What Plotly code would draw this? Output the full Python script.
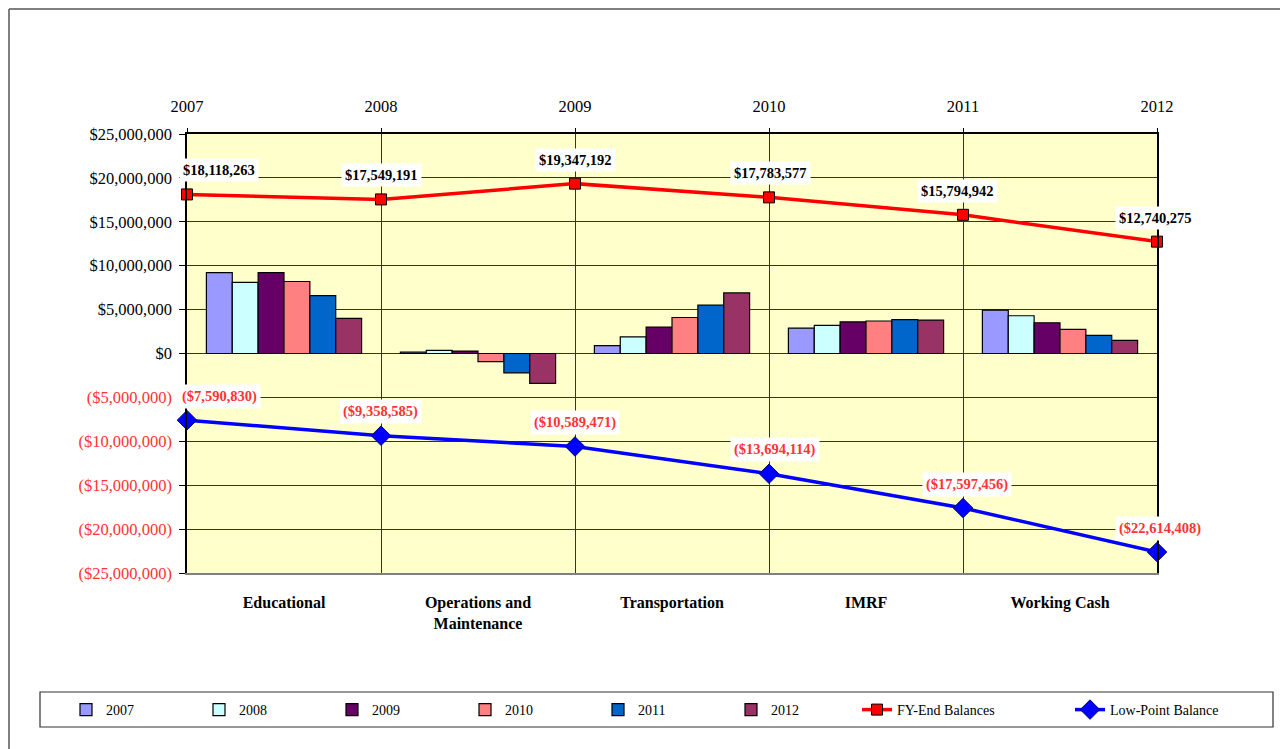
import plotly.graph_objects as go

categories = ["Educational", "Operations and<br>Maintenance", "Transportation", "IMRF", "Working Cash"]
years = [2007, 2008, 2009, 2010, 2011, 2012]

v2007 = [9200000, 150000, 900000, 2900000, 4950000]
v2008 = [8100000, 350000, 1900000, 3200000, 4300000]
v2009 = [9200000, 280000, 3000000, 3600000, 3500000]
v2010 = [8200000, -930000, 4100000, 3700000, 2750000]
v2011 = [6600000, -2200000, 5500000, 3850000, 2070000]
v2012 = [4000000, -3400000, 6900000, 3800000, 1500000]

fy_end = [18118263, 17549191, 19347192, 17783577, 15794942, 12740275]
low_point = [-7590830, -9358585, -10589471, -13694114, -17597456, -22614408]

y_ticks = [25000000, 20000000, 15000000, 10000000, 5000000, 0,
           -5000000, -10000000, -15000000, -20000000, -25000000]

bar_series = [("2007", v2007, "#9999FF"), ("2008", v2008, "#CCFFFF"),
              ("2009", v2009, "#660066"), ("2010", v2010, "#FF8080"),
              ("2011", v2011, "#0066CC"), ("2012", v2012, "#993366")]

SERIF = "Liberation Serif"
NEG = "#FF3333"


def money(v):
    return f"${v:,.0f}" if v >= 0 else f"(${-v:,.0f})"


def tick_label(v):
    if v > 0:
        return money(v)
    if v == 0:
        return "$0"
    return f"<span style='color:{NEG}'>{money(v)}</span>"


fig = go.Figure()
for name, vals, col in bar_series:
    fig.add_trace(go.Bar(x=categories, y=vals, name=name, marker_color=col,
                         marker_line_color="#000000", marker_line_width=1.2,
                         xaxis="x", yaxis="y", legend="legend"))

fig.add_trace(go.Scatter(x=years, y=fy_end, name="FY-End Balances", mode="lines+markers",
                         line=dict(color="#FF0000", width=3.5),
                         marker=dict(symbol="square", size=11, color="#FF0000",
                                     line=dict(color="#000000", width=1)),
                         xaxis="x2", yaxis="y", cliponaxis=False, legend="legend2"))
fig.add_trace(go.Scatter(x=years, y=low_point, name="Low-Point Balance", mode="lines+markers",
                         line=dict(color="#0000FF", width=3.5),
                         marker=dict(symbol="diamond", size=15, color="#0000FF",
                                     line=dict(color="#000080", width=1)),
                         xaxis="x2", yaxis="y", cliponaxis=False, legend="legend2"))

fy_xshift = [32, 0, 0, 1, -6, -2]
low_xshift = [32, -1, 0, 6, 4, 3]
annotations = []
for yr, v, xs in zip(years, fy_end, fy_xshift):
    annotations.append(dict(x=yr, y=v, xref="x2", yref="y", text=f"<b>{money(v)}</b>",
                            showarrow=False, yshift=24, xshift=xs, bgcolor="#FFFFFF",
                            borderpad=3, font=dict(family=SERIF, size=14.5, color="#000000")))
for yr, v, xs in zip(years, low_point, low_xshift):
    annotations.append(dict(x=yr, y=v, xref="x2", yref="y", text=f"<b>{money(v)}</b>",
                            showarrow=False, yshift=24, xshift=xs, bgcolor="#FFFFFF",
                            borderpad=3, font=dict(family=SERIF, size=14.5, color=NEG)))

OFF = 8  # page body margin
W, H = 1288, 749
L, R, T, B = 187 - OFF, W - (1157 - OFF), 134 - OFF, H - (573 - OFF)
pw, ph = W - L - R, H - T - B


def px(xs):
    return (xs - OFF - L) / pw


def py(ys):
    return (H - B - (ys - OFF)) / ph


shapes = [
    dict(type="line", xref="paper", yref="paper", x0=px(9), x1=px(1300), y0=py(9), y1=py(9),
         line=dict(color="#555555", width=1.5)),
    dict(type="line", xref="paper", yref="paper", x0=px(9), x1=px(9), y0=py(9), y1=py(770),
         line=dict(color="#555555", width=1.5)),
    dict(type="rect", xref="paper", yref="paper", x0=px(40), x1=px(1273), y0=py(727), y1=py(692),
         line=dict(color="#333333", width=1.2), fillcolor="rgba(0,0,0,0)"),
]

legend_common = dict(orientation="h", xanchor="left", yanchor="middle",
                     font=dict(family=SERIF, size=14), entrywidthmode="pixels",
                     bgcolor="rgba(0,0,0,0)", borderwidth=0, traceorder="normal")

fig.update_layout(
    width=W, height=H,
    margin=dict(l=L, r=R, t=T, b=B, pad=0),
    paper_bgcolor="#FFFFFF",
    plot_bgcolor="#FFFFCC",
    barmode="group", bargap=0.2, bargroupgap=0,
    font=dict(family=SERIF, size=15, color="#000000"),
    showlegend=True,
    legend=dict(x=px(66), y=py(710), entrywidth=88, **legend_common),
    legend2=dict(x=px(857), y=py(710), entrywidth=168, **legend_common),
    xaxis=dict(type="category", range=[-0.5, 4.5], showgrid=False, showline=True,
               linecolor="#808080", linewidth=2, ticks="", ticklabelstandoff=14,
               tickfont=dict(family=SERIF, size=16, color="#000000", weight="bold"),
               zeroline=False),
    xaxis2=dict(overlaying="x", side="top", anchor="y", range=[2007, 2012],
                tickvals=years, ticktext=[str(y) for y in years],
                showgrid=True, gridcolor="#333333", gridwidth=1,
                showline=True, linecolor="#000000", linewidth=1.5,
                ticks="outside", ticklen=4, tickcolor="#000000", ticklabelstandoff=10,
                tickfont=dict(family=SERIF, size=16.5, color="#000000"), zeroline=False),
    yaxis=dict(range=[-25000000, 25000000], tickvals=y_ticks,
               ticktext=[tick_label(v) for v in y_ticks],
               showgrid=True, gridcolor="#333333", gridwidth=1, zeroline=False,
               showline=True, mirror=True, linecolor="#000000", linewidth=1.5,
               ticks="outside", ticklen=6, tickcolor="#000000", ticklabelstandoff=4,
               tickfont=dict(family=SERIF, size=16.5, color="#000000")),
    annotations=annotations,
    shapes=shapes,
)

fig.write_html("out.html")
